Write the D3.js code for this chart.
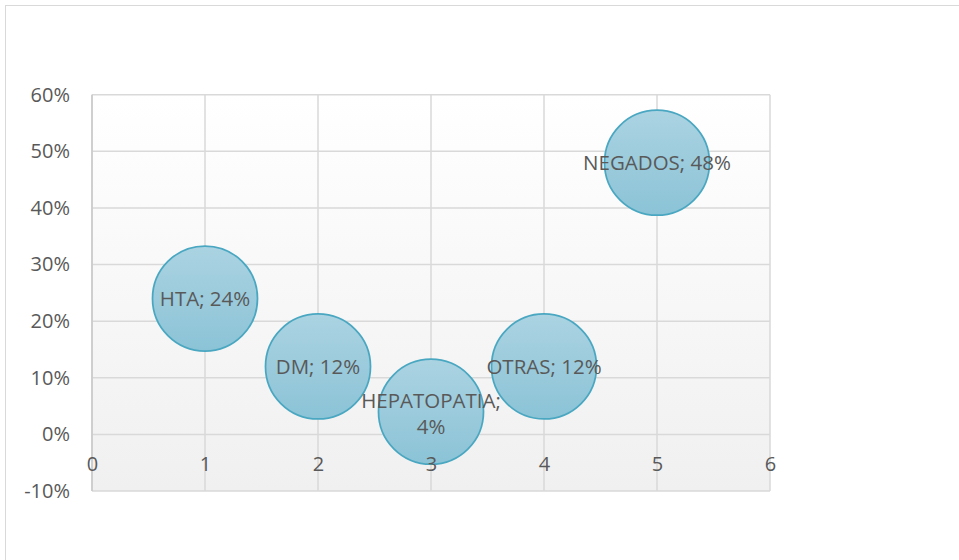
<!DOCTYPE html>
<html>
<head>
<meta charset="utf-8">
<script src="https://cdn.jsdelivr.net/npm/d3@7"></script>
<style>
  html, body { margin: 0; padding: 0; background: #ffffff; }
  svg { display: block; }
  text { font-family: "Open Sans", "DejaVu Sans", sans-serif; fill: #595959; }
</style>
</head>
<body>
<svg id="chart" width="959" height="560"></svg>
<script>
// Antecedentes: categoría, posición en el eje X, porcentaje y tamaño de burbuja
const categories = ["HTA", "DM", "HEPATOPATIA", "OTRAS", "NEGADOS"];
const xValues = [1, 2, 3, 4, 5];
const yValues = [0.24, 0.12, 0.04, 0.12, 0.48];
const bubbleSizes = [1, 1, 1, 1, 1];
const xTicks = [0, 1, 2, 3, 4, 5, 6];
const yTicks = [-0.1, 0, 0.1, 0.2, 0.3, 0.4, 0.5, 0.6];

const svg = d3.select("#chart");
const W = 959, H = 560;
const plot = { left: 92, right: 770, top: 94.7, bottom: 491 };
const tickFont = 20;
const labelFont = 20.5;

const x = d3.scaleLinear().domain([0, 6]).range([plot.left, plot.right]);
const y = d3.scaleLinear().domain([-0.1, 0.6]).range([plot.bottom, plot.top]);
const r = d3.scaleSqrt().domain([0, d3.max(bubbleSizes)]).range([0, 52.5]);
// percent format with a plain hyphen for negatives
const locale = d3.formatLocale({ decimal: ".", thousands: ",", grouping: [3], currency: ["", ""], minus: "-" });
const pct = locale.format(".0%");

const defs = svg.append("defs");
const bg = defs.append("linearGradient").attr("id", "plotBg")
  .attr("x1", 0).attr("y1", 0).attr("x2", 0).attr("y2", 1);
bg.append("stop").attr("offset", "0%").attr("stop-color", "#ffffff");
bg.append("stop").attr("offset", "100%").attr("stop-color", "#f0f0f0");

const bub = defs.append("linearGradient").attr("id", "bubbleFill")
  .attr("x1", 0).attr("y1", 0).attr("x2", 0).attr("y2", 1);
bub.append("stop").attr("offset", "0%").attr("stop-color", "#abd3e2");
bub.append("stop").attr("offset", "100%").attr("stop-color", "#8bc3d6");

// chart frame
svg.append("rect")
  .attr("x", 5.5).attr("y", 5.5)
  .attr("width", W + 20).attr("height", H + 20)
  .attr("fill", "#ffffff").attr("stroke", "#d9d9d9").attr("stroke-width", 1);

// plot area background
svg.append("rect")
  .attr("x", plot.left).attr("y", plot.top)
  .attr("width", plot.right - plot.left).attr("height", plot.bottom - plot.top)
  .attr("fill", "url(#plotBg)");

// gridlines
const grid = svg.append("g").attr("stroke", "#d9d9d9").attr("stroke-width", 1.5);
grid.selectAll("line.h").data(yTicks).join("line")
  .attr("x1", plot.left).attr("x2", plot.right)
  .attr("y1", d => y(d)).attr("y2", d => y(d));
grid.selectAll("line.v").data(xTicks).join("line")
  .attr("x1", d => x(d)).attr("x2", d => x(d))
  .attr("y1", plot.top).attr("y2", plot.bottom);

// vertical axis line
svg.append("line")
  .attr("x1", x(0)).attr("x2", x(0))
  .attr("y1", plot.top).attr("y2", plot.bottom)
  .attr("stroke", "#c8c8c8").attr("stroke-width", 1.5);

// y tick labels
const yAxis = d3.axisLeft(y).tickValues(yTicks).tickFormat(pct).tickSize(0).tickPadding(22);
const gy = svg.append("g").attr("transform", `translate(${plot.left},0)`).call(yAxis);
gy.select(".domain").remove();
gy.attr("font-size", null).attr("font-family", null);
gy.selectAll("text").style("font-size", tickFont + "px").style("fill", "#595959")
  .style("font-family", "'Open Sans', sans-serif");

// bubbles
const data = categories.map((c, i) => ({ c, x: xValues[i], y: yValues[i], s: bubbleSizes[i] }));
svg.append("g").selectAll("circle").data(data).join("circle")
  .attr("cx", d => x(d.x)).attr("cy", d => y(d.y)).attr("r", d => r(d.s))
  .attr("fill", "url(#bubbleFill)")
  .attr("stroke", "#4aa7c1").attr("stroke-width", 1.75);

// x tick labels, placed just below the 0% line and drawn over the bubbles
const xAxis = d3.axisBottom(x).tickValues(xTicks).tickFormat(d3.format("d")).tickSize(0).tickPadding(22);
const gx = svg.append("g").attr("transform", `translate(0,${y(0)})`).call(xAxis);
gx.select(".domain").remove();
gx.attr("font-size", null).attr("font-family", null);
gx.selectAll("text").style("font-size", tickFont + "px").style("fill", "#595959")
  .style("font-family", "'Open Sans', sans-serif");

// data labels "CATEGORÍA; valor"; long labels wrap onto two lines
const labels = svg.append("g").selectAll("text").data(data).join("text")
  .style("font-size", labelFont + "px")
  .attr("text-anchor", "middle")
  .attr("x", d => x(d.x))
  .attr("y", d => y(d.y));
labels.each(function(d) {
  const t = d3.select(this);
  if (d.c.length > 8) {
    t.append("tspan").attr("x", x(d.x)).attr("dy", "-0.2em").text(`${d.c};`);
    t.append("tspan").attr("x", x(d.x)).attr("dy", "1.27em").text(pct(d.y));
  } else {
    t.append("tspan").attr("dy", "0.36em").text(`${d.c}; ${pct(d.y)}`);
  }
});
</script>
</body>
</html>
